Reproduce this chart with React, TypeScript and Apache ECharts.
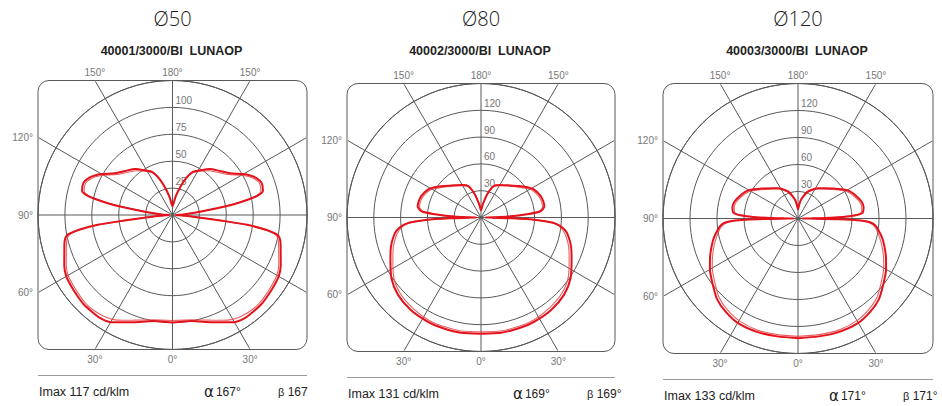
import React, { useEffect, useRef } from "react";
import * as echarts from "echarts";

// ---------- data ----------
const panelTitles = ["Ø50", "Ø80", "Ø120"];
const productCodes = ["40001/3000/BI  LUNAOP", "40002/3000/BI  LUNAOP", "40003/3000/BI  LUNAOP"];
const imaxLabels = ["Imax 117 cd/klm", "Imax 131 cd/klm", "Imax 133 cd/klm"];
const alphaLabels = ["167°", "169°", "171°"];
const betaLabels = ["167", "169°", "171°"];
const radiusMax = [125, 150, 150];
const radiusStep = [25, 30, 30];
const topDegreeLabels = ["150°", "180°", "150°"];
const leftDegreeLabels = ["120°", "90°", "60°"];
const bottomDegreeLabels = ["30°", "0°", "30°"];

// gamma angle (0 = straight down, 180 = straight up) -> intensity cd/klm
const gamma50 = [0, 10, 20, 25, 30, 35, 40, 45, 50, 55, 60, 65, 70, 75, 79, 81, 82.5, 83.5, 84.5, 86, 88, 90, 93, 96, 98, 100, 101.5, 103, 105, 110, 114, 117, 120, 126, 133, 141, 148, 155, 160, 164, 170, 176, 180];
const intensity50 = [100, 100, 106, 110, 115, 117, 117, 117, 116, 115, 114, 111, 107, 104, 100, 88, 70, 45, 28, 14, 6, 3, 10, 22, 35, 58, 72, 82, 87, 88, 85, 81, 76, 66, 60, 55, 49, 44, 36, 28, 18, 10, 8];
const intensity50b = [98, 99, 104, 108, 112, 114, 115, 115, 114, 113, 112, 109, 105, 102, 98, 86, 68, 44, 27, 14, 6, 3, 10, 21, 34, 56, 70, 80, 85, 86, 83, 79, 74, 64, 58, 53, 48, 43, 35, 27, 17, 10, 8];

const gamma80 = [0, 10, 20, 27, 37, 47, 56, 66, 72, 77, 81, 84, 86, 87.5, 88.5, 89.5, 90, 91, 92, 94, 96, 100, 105, 110, 118, 123, 130, 140, 150, 158, 165, 172, 180];
const intensity80 = [130, 131, 131, 131, 130, 127, 121, 111, 106, 101, 96, 89, 80, 62, 35, 12, 5, 15, 30, 52, 67, 72, 72, 71, 67, 62, 55, 47, 42, 38, 27, 15, 8];
const intensity80b = [128, 129, 129, 129, 127, 124, 118, 108, 103, 98, 93, 87, 78, 60, 34, 12, 5, 14, 29, 50, 65, 70, 70, 69, 65, 60, 53, 46, 41, 37, 26, 15, 8];

const gamma120 = [0, 10, 20, 30, 38, 45, 52, 60, 66, 72, 77, 82, 85, 87, 88.2, 89, 89.6, 90, 90.5, 91, 92, 93, 95, 100, 105, 110, 115, 120, 130, 140, 147, 155, 161, 167, 172, 176, 180];
const intensity120 = [133, 133, 134, 134, 131, 127, 120, 113, 107, 101, 96, 90, 86, 80, 70, 45, 15, 5, 15, 30, 50, 63, 72, 74, 73, 70, 67, 63, 52, 44, 40, 35, 31, 25, 20, 14, 10];
const intensity120b = [131, 131, 132, 131, 128, 124, 117, 110, 104, 98, 93, 88, 84, 78, 68, 44, 15, 5, 14, 29, 48, 61, 70, 72, 71, 68, 65, 61, 50, 43, 39, 34, 30, 24, 19, 14, 10];

const gammaSets = [gamma50, gamma80, gamma120];
const intensitySets = [intensity50, intensity80, intensity120];
const intensitySetsB = [intensity50b, intensity80b, intensity120b];

// ---------- layout ----------
const layout = [
  { cx: 172.5, cy: 215, half: 134.5 },
  { cx: 481, cy: 217.5, half: 134 },
  { cx: 798, cy: 218.5, half: 135 },
];

const GRID = "#595959";
const LABEL = "#777777";
const RED = "#e3121b";

function buildLoop(g: number[], v: number[]) {
  const right = g.map((t, i) => [v[i], 180 - t]);
  const left: number[][] = [];
  for (let i = g.length - 1; i >= 0; i--) left.push([v[i], 180 + g[i]]);
  return right.concat(left);
}

function buildOption() {
  const polar: any[] = [];
  const angleAxis: any[] = [];
  const radiusAxis: any[] = [];
  const series: any[] = [];
  const graphic: any[] = [];

  layout.forEach((p, i) => {
    const { cx, cy, half } = p;
    const left = cx - half, right = cx + half, top = cy - half, bottom = cy + half;
    polar.push({ center: [cx, cy], radius: half });
    angleAxis.push({
      polarIndex: i, type: "value", min: 0, max: 360, interval: 30, startAngle: 90, clockwise: true,
      axisLine: { show: true, lineStyle: { color: GRID, width: 1 } },
      axisTick: { show: false }, axisLabel: { show: false },
      splitLine: { show: true, lineStyle: { color: GRID, width: 1 } },
    });
    radiusAxis.push({
      polarIndex: i, type: "value", min: 0, max: radiusMax[i], interval: radiusStep[i],
      axisLine: { show: false }, axisTick: { show: false },
      axisLabel: {
        show: true, showMinLabel: false, showMaxLabel: false,
        align: "left", verticalAlign: "bottom", margin: 0, padding: [0, 0, 2, 3],
        color: LABEL, fontSize: 10, fontFamily: "Liberation Sans",
      },
      splitLine: { show: true, lineStyle: { color: GRID, width: 1 } },
    });
    series.push({
      name: "C90-C270", type: "line", coordinateSystem: "polar", polarIndex: i, showSymbol: false, smooth: 0.25,
      data: buildLoop(gammaSets[i], intensitySetsB[i]),
      lineStyle: { color: "#e6444a", width: 1.1, opacity: 0.85 }, z: 4,
    });
    series.push({
      name: "C0-C180", type: "line", coordinateSystem: "polar", polarIndex: i, showSymbol: false, smooth: 0.25,
      data: buildLoop(gammaSets[i], intensitySets[i]),
      lineStyle: { color: RED, width: 2 }, z: 5,
    });

    // rounded frame
    graphic.push({ type: "rect", shape: { x: left, y: top, width: 2 * half, height: 2 * half, r: 11 }, style: { fill: "none", stroke: GRID, lineWidth: 1 }, silent: true });
    // spoke extensions beyond the outer circle to the frame
    [30, 60, 120, 150, 210, 240, 300, 330].forEach((phi) => {
      const a = (phi * Math.PI) / 180;
      const dx = Math.sin(a), dy = -Math.cos(a);
      const L = half / Math.max(Math.abs(dx), Math.abs(dy));
      graphic.push({ type: "line", shape: { x1: cx + dx * half, y1: cy + dy * half, x2: cx + dx * (L - 1), y2: cy + dy * (L - 1) }, style: { stroke: GRID, lineWidth: 1 }, silent: true });
    });
    const t30 = half * Math.tan(Math.PI / 6);
    const tf = { fill: LABEL, fontSize: 10, fontFamily: "Liberation Sans" };
    [cx - t30, cx, cx + t30].forEach((x, k) => graphic.push({ type: "text", x, y: top - 8, style: { ...tf, text: topDegreeLabels[k], align: "center", verticalAlign: "middle" } }));
    [cy - t30, cy, cy + t30].forEach((y, k) => graphic.push({ type: "text", x: left - 5, y, style: { ...tf, text: leftDegreeLabels[k], align: "right", verticalAlign: "middle" } }));
    [cx - t30, cx, cx + t30].forEach((x, k) => graphic.push({ type: "text", x, y: bottom + 10, style: { ...tf, text: bottomDegreeLabels[k], align: "center", verticalAlign: "middle" } }));
    // titles
    graphic.push({ type: "text", x: cx, y: 18, style: { text: panelTitles[i], fill: "#222", fontSize: 20, fontWeight: 300, fontFamily: "Open Sans", align: "center", verticalAlign: "middle" } });
    graphic.push({ type: "text", x: cx - 1, y: 51, style: { text: productCodes[i], fill: "#222", fontSize: 12.5, fontWeight: "bold", fontFamily: "Liberation Sans", align: "center", verticalAlign: "middle" } });
    // footer
    graphic.push({ type: "line", shape: { x1: left, y1: bottom + 26, x2: right, y2: bottom + 26 }, style: { stroke: "#9a9a9a", lineWidth: 1 }, silent: true });
    const fy = bottom + 42;
    graphic.push({ type: "text", x: left + 1, y: fy, style: { text: imaxLabels[i], fill: "#222", fontSize: 12.5, fontFamily: "Liberation Sans", align: "left", verticalAlign: "middle" } });
    graphic.push({ type: "text", x: left + 166, y: fy, style: { text: "{a|α}{b|" + alphaLabels[i] + "}", align: "left", verticalAlign: "middle", rich: { a: { fill: "#222", fontSize: 15, fontFamily: "DejaVu Sans" }, b: { fill: "#222", fontSize: 12, fontFamily: "Liberation Sans", padding: [0, 0, 0, 2] } } } });
    graphic.push({ type: "text", x: left + 240, y: fy, style: { text: "{a|β} {b|" + betaLabels[i] + "}", align: "left", verticalAlign: "middle", rich: { a: { fill: "#222", fontSize: 11, fontFamily: "Liberation Sans" }, b: { fill: "#222", fontSize: 12, fontFamily: "Liberation Sans" } } } });
  });

  return { animation: false, backgroundColor: "#ffffff", polar, angleAxis, radiusAxis, series, graphic };
}

export default function App() {
  const ref = useRef<HTMLDivElement>(null);
  useEffect(() => {
    document.body.style.margin = "0";
    if (!ref.current) return;
    const chart = echarts.init(ref.current, undefined, { renderer: "svg" });
    chart.setOption(buildOption() as any);
    return () => chart.dispose();
  }, []);
  return <div ref={ref} style={{ width: 942, height: 406 }} />;
}
